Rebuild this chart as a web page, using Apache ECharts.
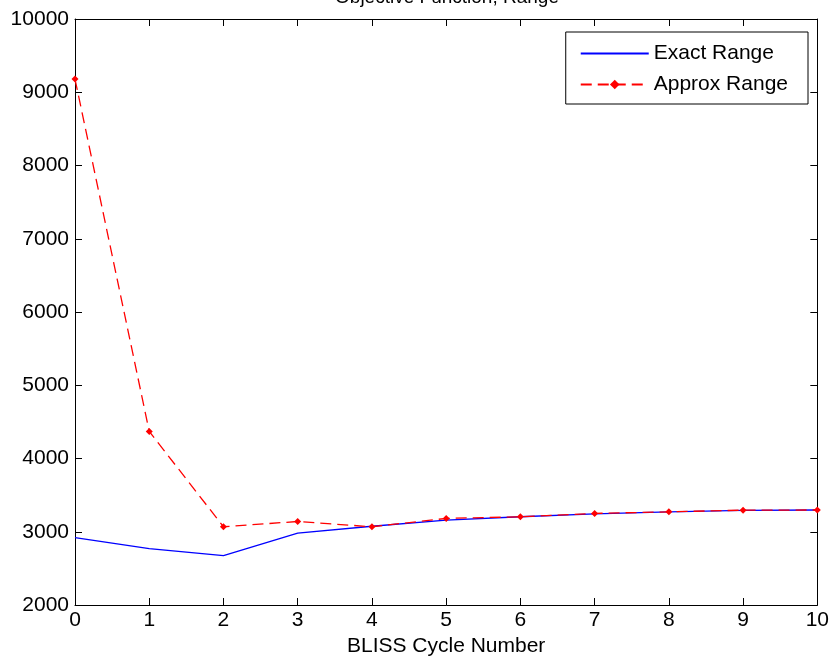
<!DOCTYPE html>
<html>
<head>
<meta charset="utf-8">
<script src="https://cdn.jsdelivr.net/npm/echarts@6/dist/echarts.min.js"></script>
<style>html,body{margin:0;padding:0;background:#fff;}#c{width:832px;height:665px;}</style>
</head>
<body>
<div id="c"></div>
<script>
const cycles = [0,1,2,3,4,5,6,7,8,9,10];
const exactRange = [2920,2770,2675,2980,3075,3160,3205,3245,3272,3292,3297];
const approxRange = [9180,4370,3068,3140,3068,3182,3204,3250,3272,3295,3297];
const yTicks = [2000,3000,4000,5000,6000,7000,8000,9000,10000];

const font = 'Liberation Sans, Arial, sans-serif';
const fs = 21;
const chart = echarts.init(document.getElementById('c'), null, {renderer:'canvas'});
const pairs = a => cycles.map((x,i)=>[x,a[i]]);
const axisLine = () => ({show:true, onZero:false, lineStyle:{color:'#000', width:1}});
const tick = () => ({show:true, inside:true, length:7, lineStyle:{color:'#000', width:1}});
chart.setOption({
  animation:false,
  backgroundColor:'#fff',
  title:{text:'Objective Function, Range', left:447, textAlign:'center', top:-12, padding:0,
    textStyle:{fontFamily:font, fontSize:19, fontWeight:'normal', color:'#000'}},
  grid:{left:75, right:13, top:19, bottom:60, containLabel:false},
  legend:{
    orient:'vertical', right:24, top:32,
    backgroundColor:'#fff', borderColor:'#000', borderWidth:1,
    padding:[11,20,9,14], itemGap:10, itemWidth:68, itemHeight:12,
    textStyle:{fontFamily:font, fontSize:fs, color:'#000'},
    data:[{name:'Exact Range', itemStyle:{opacity:0}},{name:'Approx Range'}]
  },
  xAxis:[{
    type:'value', min:0, max:10, interval:1, position:'bottom',
    name:'BLISS Cycle Number', nameLocation:'middle', nameGap:31,
    nameTextStyle:{fontFamily:font, fontSize:fs, color:'#000', verticalAlign:'top'},
    axisLine:axisLine(), axisTick:tick(),
    axisLabel:{fontFamily:font, fontSize:fs, color:'#000', margin:5},
    splitLine:{show:false}
  },{
    type:'value', min:0, max:10, interval:1, position:'top',
    axisLine:axisLine(), axisTick:tick(),
    axisLabel:{show:false}, splitLine:{show:false}
  }],
  yAxis:[{
    type:'value', min:yTicks[0], max:yTicks[yTicks.length-1], interval:1000, position:'left',
    axisLine:axisLine(), axisTick:tick(),
    axisLabel:{fontFamily:font, fontSize:fs, color:'#000', margin:6, formatter:v=>String(v)},
    splitLine:{show:false}
  },{
    type:'value', min:yTicks[0], max:yTicks[yTicks.length-1], interval:1000, position:'right',
    axisLine:axisLine(), axisTick:tick(),
    axisLabel:{show:false}, splitLine:{show:false}
  }],
  series:[{
    name:'Exact Range', type:'line', data:pairs(exactRange),
    showSymbol:false, symbol:'circle', symbolSize:0, color:'#0000ff',
    lineStyle:{color:'#0000ff', width:1.3}
  },{
    name:'Approx Range', type:'line', data:pairs(approxRange),
    symbol:'diamond', symbolSize:7, color:'#ff0000',
    itemStyle:{color:'#ff0000'},
    lineStyle:{color:'#ff0000', width:1.3, type:[11,6]}
  }]
});
</script>
</body>
</html>
